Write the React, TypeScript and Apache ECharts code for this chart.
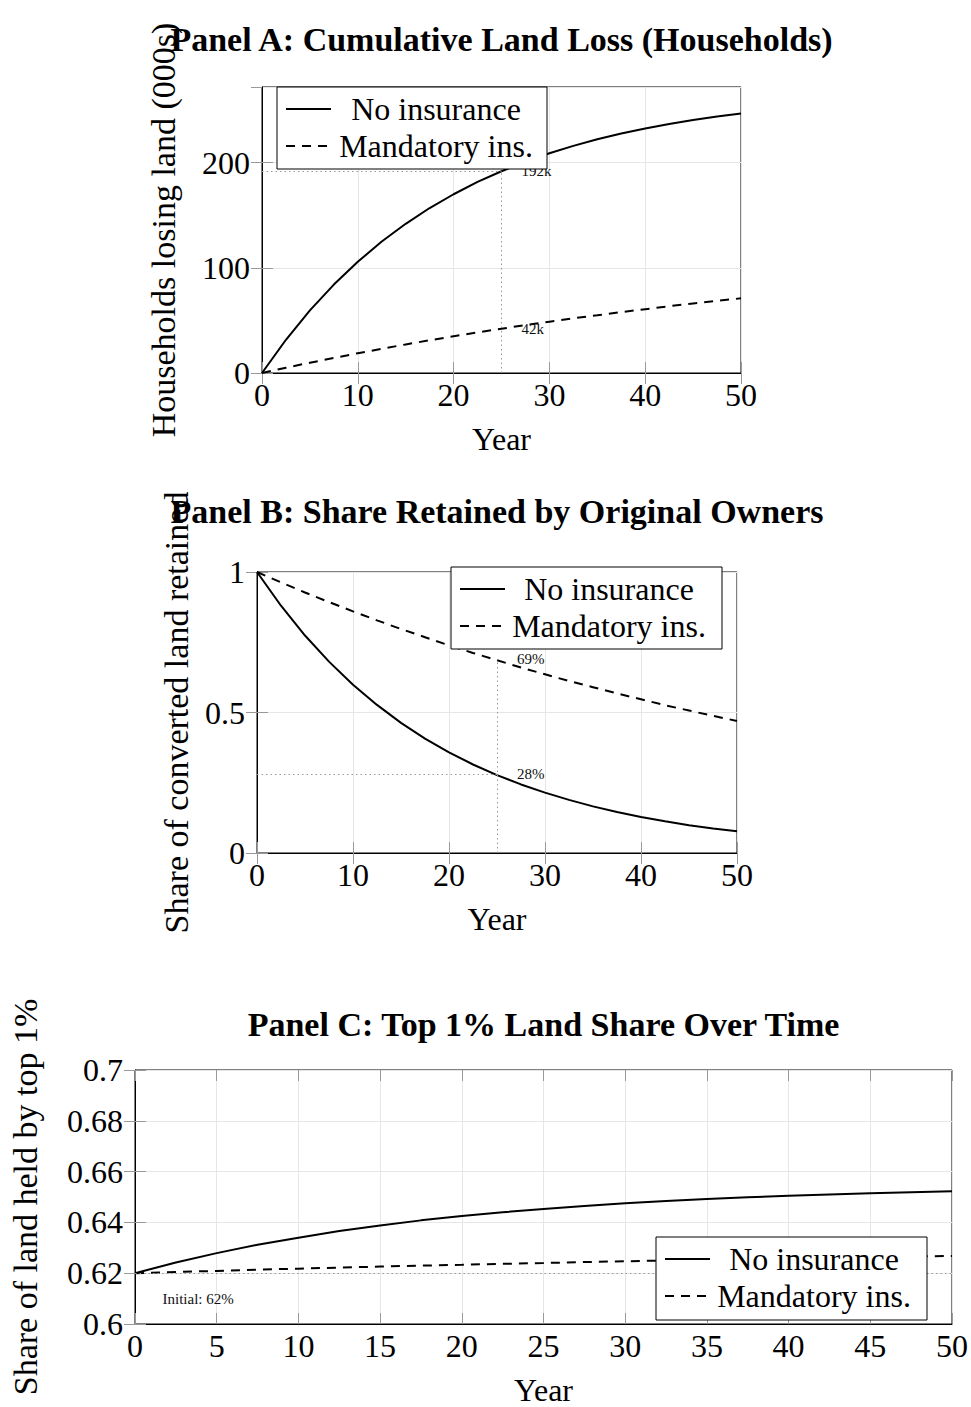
import React, { useEffect, useRef } from "react";
import * as echarts from "echarts";

// ---------- data ----------
const years = [0, 2.5, 5, 7.5, 10, 12.5, 15, 17.5, 20, 22.5, 25, 27.5, 30, 32.5, 35, 37.5, 40, 42.5, 45, 47.5, 50];

// Panel A: cumulative households losing land (000s)
const lossNoIns = [0, 31.6, 59.5, 84.1, 105.8, 125.0, 141.9, 156.9, 170.0, 181.7, 191.9, 201.0, 209.0, 216.0, 222.3, 227.7, 232.6, 236.9, 240.6, 244.0, 246.9];
const lossMandatory = [0, 5.0, 9.8, 14.3, 18.8, 23.0, 27.2, 31.1, 35.0, 38.6, 42.1, 45.6, 48.8, 52.0, 54.9, 57.9, 60.7, 63.5, 66.1, 68.6, 71.0];

// Panel B: share of converted land retained by original owners
const retainedNoIns = [1, 0.88, 0.774, 0.681, 0.599, 0.527, 0.463, 0.407, 0.358, 0.315, 0.277, 0.244, 0.215, 0.189, 0.166, 0.146, 0.128, 0.113, 0.099, 0.087, 0.077];
const retainedMandatory = [1, 0.963, 0.927, 0.893, 0.86, 0.828, 0.797, 0.768, 0.739, 0.712, 0.686, 0.66, 0.636, 0.612, 0.59, 0.568, 0.547, 0.526, 0.507, 0.488, 0.47];

// Panel C: top 1% land share
const top1NoIns = [0.62, 0.6242, 0.6279, 0.6312, 0.634, 0.6366, 0.6388, 0.6408, 0.6425, 0.644, 0.6453, 0.6465, 0.6475, 0.6484, 0.6492, 0.6499, 0.6505, 0.651, 0.6515, 0.6519, 0.6523];
const top1Mandatory = [0.62, 0.6205, 0.6209, 0.6214, 0.6218, 0.6222, 0.6226, 0.623, 0.6233, 0.6237, 0.624, 0.6244, 0.6247, 0.625, 0.6253, 0.6255, 0.6258, 0.6261, 0.6263, 0.6266, 0.6268];

// annotations
const markYear = 25;
const lossAtMark = [192, 42];
const lossLabels = ["192k", "42k"];
const retainedAtMark = [0.28, 0.69];
const retainedLabels = ["28%", "69%"];
const initialShare = 0.62;
const initialLabel = "Initial: 62%";
const initialLabelPos = [1.5, 0.61];

const seriesNames = ["No insurance", "Mandatory ins."];
const titles = [
  "Panel A: Cumulative Land Loss (Households)",
  "Panel B: Share Retained by Original Owners",
  "Panel C: Top 1% Land Share Over Time",
];
const yNames = ["Households losing land (000s)", "Share of converted land retained", "Share of land held by top 1%"];
const xName = "Year";

// ---------- styling ----------
const FONT = '"Liberation Serif", "DejaVu Serif", serif';
const DASH = [9, 7];
const grids = [
  { left: 262, top: 87, width: 479, height: 286 },
  { left: 257, top: 572, width: 480, height: 281 },
  { left: 135, top: 1070, width: 817, height: 258 },
];
const yRanges = [
  { min: 0, max: 272, interval: 100 },
  { min: 0, max: 1, interval: 0.5 },
  { min: 0.6, max: 0.7, interval: 0.02 },
];
const xIntervals = [10, 10, 5];
const yNameGaps = [82, 64, 93];
const legendBoxes = [
  { x: 277, y: 87, w: 270, h: 82, lx: 286, tx: 436 },
  { x: 451, y: 567, w: 271, h: 82, lx: 460, tx: 609 },
  { x: 656, y: 1237, w: 271, h: 83, lx: 665, tx: 814 },
];

const tick = { show: true, inside: true, length: 11, lineStyle: { color: "#999", width: 1 } };

function buildOption() {
  const xAxis: any[] = [];
  const yAxis: any[] = [];
  grids.forEach((g, i) => {
    xAxis.push({
      type: "value",
      gridIndex: i,
      min: 0,
      max: 50,
      interval: xIntervals[i],
      name: xName,
      nameLocation: "middle",
      nameGap: 50,
      nameTextStyle: { fontSize: 32, fontFamily: FONT, color: "#000" },
      axisLine: { show: true, onZero: false, lineStyle: { color: "#000", width: 1 } },
      axisTick: tick,
      axisLabel: { fontSize: 32, fontFamily: FONT, color: "#000", margin: 6 },
      splitLine: { show: true, lineStyle: { color: "#e6e6e6", width: 1 } },
    });
    xAxis.push({
      type: "value",
      gridIndex: i,
      position: "top",
      min: 0,
      max: 50,
      interval: xIntervals[i],
      axisLine: { show: false },
      axisTick: tick,
      axisLabel: { show: false },
      splitLine: { show: false },
    });
    yAxis.push({
      type: "value",
      gridIndex: i,
      ...yRanges[i],
      name: yNames[i],
      nameLocation: "middle",
      nameGap: yNameGaps[i],
      nameTextStyle: { fontSize: 34, fontFamily: FONT, color: "#000" },
      axisLine: { show: true, onZero: false, lineStyle: { color: "#000", width: 1 } },
      axisTick: tick,
      axisLabel: { fontSize: 32, fontFamily: FONT, color: "#000", margin: 12, showMaxLabel: i !== 0 },
      splitLine: { show: true, lineStyle: { color: "#e6e6e6", width: 1 } },
    });
    yAxis.push({
      type: "value",
      gridIndex: i,
      position: "right",
      ...yRanges[i],
      axisLine: { show: false },
      axisTick: tick,
      axisLabel: { show: false },
      splitLine: { show: false },
    });
  });

  const dotted = { type: [1.5, 3], color: "#999", width: 1 };
  const annoLabel = (dist: number) => ({
    show: true,
    position: "right",
    distance: dist,
    formatter: "{b}",
    fontSize: 15,
    fontFamily: FONT,
    color: "#111",
  });

  const line = (name: string, gi: number, ys: number[], dashed: boolean, extra: any = {}) => ({
    type: "line",
    name,
    xAxisIndex: gi * 2,
    yAxisIndex: gi * 2,
    data: years.map((x, k) => [x, ys[k]]),
    showSymbol: false,
    symbol: "none",
    smooth: false,
    lineStyle: { color: "#000", width: 2, type: dashed ? DASH : "solid" },
    z: 3,
    ...extra,
  });

  const series: any[] = [
    line(seriesNames[0], 0, lossNoIns, false, {
      markLine: {
        silent: true,
        symbol: ["none", "none"],
        lineStyle: dotted,
        label: { show: false },
        data: [
          [{ coord: [markYear, 0] }, { coord: [markYear, lossAtMark[0]] }],
          [{ coord: [0, lossAtMark[0]] }, { coord: [markYear, lossAtMark[0]] }],
        ],
      },
      markPoint: {
        symbol: "circle",
        symbolSize: 0,
        label: annoLabel(20),
        data: [{ name: lossLabels[0], coord: [markYear, lossAtMark[0]] }],
      },
    }),
    line(seriesNames[1], 0, lossMandatory, true, {
      markPoint: {
        symbol: "circle",
        symbolSize: 0,
        label: annoLabel(20),
        data: [{ name: lossLabels[1], coord: [markYear, lossAtMark[1]] }],
      },
    }),
    line(seriesNames[0], 1, retainedNoIns, false, {
      markLine: {
        silent: true,
        symbol: ["none", "none"],
        lineStyle: dotted,
        label: { show: false },
        data: [
          [{ coord: [markYear, 0] }, { coord: [markYear, retainedAtMark[1]] }],
          [{ coord: [0, retainedAtMark[0]] }, { coord: [markYear, retainedAtMark[0]] }],
        ],
      },
      markPoint: {
        symbol: "circle",
        symbolSize: 0,
        label: annoLabel(20),
        data: [{ name: retainedLabels[0], coord: [markYear, retainedAtMark[0]] }],
      },
    }),
    line(seriesNames[1], 1, retainedMandatory, true, {
      markPoint: {
        symbol: "circle",
        symbolSize: 0,
        label: annoLabel(20),
        data: [{ name: retainedLabels[1], coord: [markYear, retainedAtMark[1]] }],
      },
    }),
    line(seriesNames[0], 2, top1NoIns, false, {
      markLine: {
        silent: true,
        symbol: ["none", "none"],
        lineStyle: dotted,
        label: { show: false },
        data: [[{ coord: [0, initialShare] }, { coord: [50, initialShare] }]],
      },
      markPoint: {
        symbol: "circle",
        symbolSize: 0,
        label: annoLabel(3),
        data: [{ name: initialLabel, coord: initialLabelPos }],
      },
    }),
    line(seriesNames[1], 2, top1Mandatory, true),
  ];

  const graphic: any[] = legendBoxes.map((b) => ({
    type: "group",
    z: 100,
    children: [
      { type: "rect", shape: { x: b.x, y: b.y, width: b.w, height: b.h }, style: { fill: "#fff", stroke: "#000", lineWidth: 1 }, z: 100 },
      ...seriesNames.flatMap((n, k) => {
        const cy = b.y + 22 + k * 37;
        return [
          {
            type: "line",
            shape: { x1: b.lx, y1: cy, x2: b.lx + 45, y2: cy },
            style: { stroke: "#000", lineWidth: 2, lineDash: k === 1 ? DASH : null },
            z: 101,
          },
          {
            type: "text",
            x: b.tx,
            y: cy,
            style: { text: n, fontSize: 32, fontFamily: FONT, fill: "#000", align: "center", verticalAlign: "middle" },
            z: 101,
          },
        ];
      }),
    ],
  }));

  const titleCenters = grids.map((g) => g.left + g.width / 2);
  const titleTops = [22, 494, 1007];
  const title = titles.map((t, i) => ({
    text: t,
    left: titleCenters[i],
    top: titleTops[i],
    textAlign: "center",
    padding: 0,
    textStyle: { fontSize: 34, fontWeight: "bold", fontFamily: FONT, color: "#000" },
  }));

  return {
    animation: false,
    backgroundColor: "#fff",
    textStyle: { fontFamily: FONT, color: "#000" },
    title,
    grid: grids.map((g) => ({ ...g, show: true, borderColor: "#000", borderWidth: 1, backgroundColor: "transparent" })),
    xAxis,
    yAxis,
    series,
    graphic,
  };
}

export default function App() {
  const ref = useRef<HTMLDivElement>(null);
  useEffect(() => {
    document.body.style.margin = "0";
    if (!ref.current) return;
    const chart = echarts.init(ref.current, null, { renderer: "svg" });
    chart.setOption(buildOption() as any);
    return () => chart.dispose();
  }, []);
  return <div ref={ref} style={{ width: 971, height: 1407, background: "#fff" }} />;
}
